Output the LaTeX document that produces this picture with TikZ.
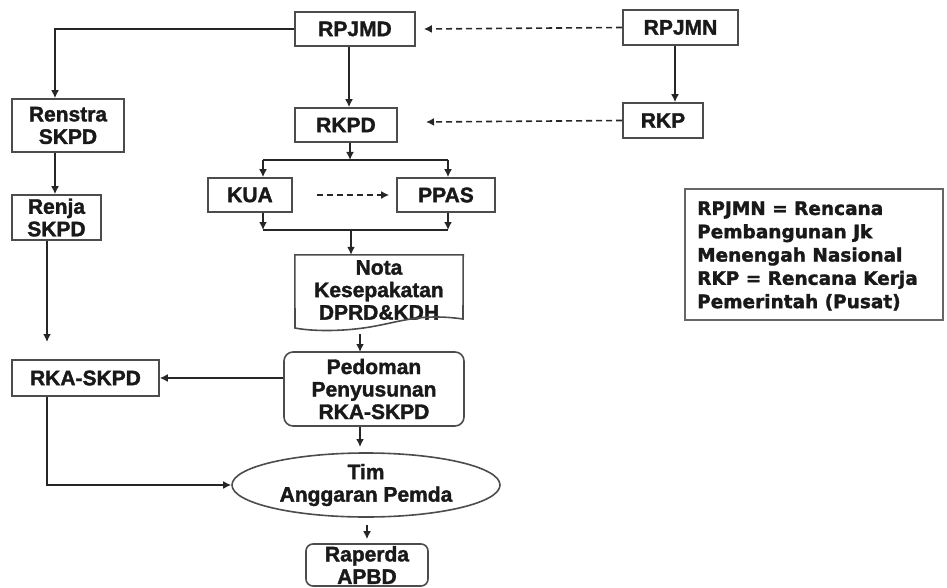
\documentclass[tikz,border=0pt]{standalone}
\usepackage{fontspec}
\setmainfont{Liberation Sans}[BoldFeatures={FakeBold=1.6}]
\newfontfamily\legendfont{DejaVu Sans}[BoldFeatures={FakeBold=1.6}]
\usetikzlibrary{arrows.meta,shapes.geometric,calc}
\begin{document}
\begin{tikzpicture}[x=1pt,y=-1pt,
  every node/.style={font=\fontsize{21}{22.5}\selectfont\bfseries, inner sep=0pt, align=center, text=black!90},
  boxx/.style={draw=black!70, line width=1.6pt, rectangle},
  rbox/.style={draw=black!70, line width=1.6pt, rectangle, rounded corners=9pt},
  arr/.style={-{Latex[length=8pt,width=8pt]}, line width=1.6pt, draw=black!85},
  ln/.style={line width=1.6pt, draw=black!85},
  darr/.style={arr, dashed, dash pattern=on 6pt off 4pt}]
\useasboundingbox (0,0) rectangle (947,588);
% nodes
\node[boxx, minimum width=120pt, minimum height=34pt] (rpjmd) at (355,29) {RPJMD};
\node[boxx, minimum width=115pt, minimum height=35pt] (rpjmn) at (680.5,27.5) {RPJMN};
\node[boxx, minimum width=80pt, minimum height=35pt] (rkp) at (663,120.5) {RKP};
\node[boxx, minimum width=102pt, minimum height=34pt] (rkpd) at (346,125) {RKPD};
\node[boxx, minimum width=112pt, minimum height=53pt] (renstra) at (68,125.5) {Renstra\\SKPD};
\node[boxx, minimum width=89pt, minimum height=45pt] (renja) at (56.5,217.5) {Renja\\SKPD};
\node[boxx, minimum width=84pt, minimum height=34pt] (kua) at (250,195) {KUA};
\node[boxx, minimum width=98pt, minimum height=34pt] (ppas) at (446,195) {PPAS};
\node[minimum width=168pt, minimum height=70pt] (nota) at (379,290) {Nota\\Kesepakatan\\DPRD\&KDH};
\draw[line width=1.6pt, draw=black!70] (nota.north west) -- (nota.north east) -- (463,319)
  .. controls (420,313) and (400,322) .. (370,327)
  .. controls (340,332) and (310,331) .. (295,328) -- cycle;
\node[rbox, minimum width=180pt, minimum height=74pt] (pedoman) at (374,389) {Pedoman\\Penyusunan\\RKA-SKPD};
\node[boxx, minimum width=147pt, minimum height=36pt] (rka) at (85.5,378) {RKA-SKPD};
\node[ellipse, draw=black!70, line width=1.6pt, minimum width=268pt, minimum height=64pt] (tim) at (366,485) {Tim\\Anggaran Pemda};
\node[rbox, rounded corners=7pt, minimum width=122pt, minimum height=42pt] (raperda) at (367,565) {Raperda\\APBD};
\node[boxx, draw=black!60, minimum width=258pt, minimum height=131pt] (legend) at (814,254.5) {};
\node[anchor=west, align=left, font=\legendfont\fontsize{18.5}{23.3}\selectfont\bfseries] (legtext) at (697,256)
  {RPJMN = Rencana\\Pembangunan Jk\\Menengah Nasional\\RKP = Rencana Kerja\\Pemerintah (Pusat)};
% coordinates
\coordinate (split) at (350,160);
\coordinate (br1) at (263,160);
\coordinate (br2) at (448,160);
\coordinate (jn1) at (263,230);
\coordinate (jn2) at (448,230);
\coordinate (jnm) at (351,230);
\coordinate (rkaTop) at (47,342);
\coordinate (pedTop) at (360,352);
\coordinate (timTop) at (360,447);
\coordinate (rkpTip) at (426,122);
% connectors
\draw[arr] (rpjmd.west) -| ([xshift=-13pt]renstra.north);
\draw[arr] ([xshift=-1.5pt]renja.north |- renstra.south) -- ([xshift=-1.5pt]renja.north);
\draw[arr] (renja.south -| rkaTop) -- (rkaTop);
\draw[arr] (rka.south -| rkaTop) |- (tim.west);
\draw[arr] (pedoman.west |- rka.east) -- (rka.east);
\draw[arr] ([xshift=-6pt]rpjmd.south) -- ([xshift=3pt]rkpd.north);
\draw[arr] (rpjmn.south -| 675,0) -- (rkp.north -| 675,0);
\draw[arr] (split |- rkpd.south) -- (split);
\draw[ln] (br1) -- (br2);
\draw[arr] (br1) -- (br1 |- kua.north);
\draw[arr] (br2) -- (br2 |- ppas.north);
\draw[arr] (jn1 |- kua.south) -- (jn1);
\draw[arr] (jn2 |- ppas.south) -- (jn2);
\draw[ln] (jn1) -- (jn2);
\draw[arr] (jnm) -- (jnm |- nota.north);
\draw[arr] (360,334) -- (pedTop);
\draw[arr] (pedTop |- pedoman.south) -- (timTop);
\draw[arr] ([yshift=-7pt]tim.south -| raperda.north) -- ([yshift=4pt]raperda.north);
\draw[darr] (rpjmn.west) -- ([xshift=8pt]rpjmd.east);
\draw[darr] (rkp.west) -- (rkpTip);
\draw[darr] ([xshift=24pt]kua.east) -- ([xshift=-7pt]ppas.west);
\end{tikzpicture}
\end{document}
